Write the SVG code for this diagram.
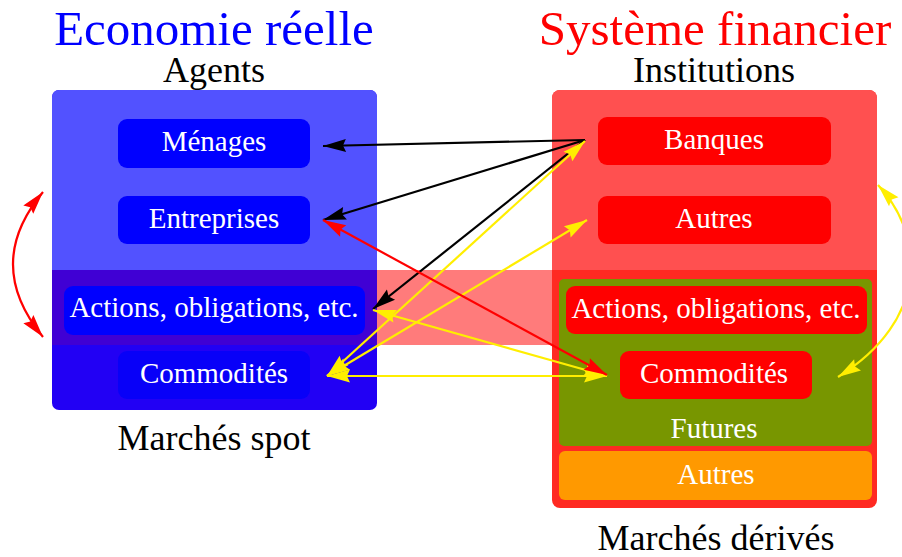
<svg xmlns="http://www.w3.org/2000/svg" width="902" height="557" viewBox="0 0 902 557">
<style>
text{font-family:"Liberation Serif","Times New Roman",serif;text-anchor:middle}
.title{font-size:49px}
.sub{font-size:36px;fill:#000}
.lbl{font-size:29px;fill:#fff}
.bn{fill:#0000ff}
.rn{fill:#ff0000}
.c{fill:none;stroke-width:2.2}
.k{stroke:#000;marker-start:none;marker-end:url(#mk)}
.y{stroke:#ffee00;marker-start:url(#my);marker-end:url(#my)}
.r{stroke:#ff0000;marker-start:url(#mr);marker-end:url(#mr)}
</style>
<defs>
<marker id="mk" viewBox="-25 -8 27 16" refX="0" refY="0" markerWidth="27" markerHeight="16" markerUnits="userSpaceOnUse" orient="auto-start-reverse"><path d="M0,0 L-23,-6.5 L-20,0 L-23,6.5 Z" fill="#000"/></marker>
<marker id="my" viewBox="-25 -8 27 16" refX="0" refY="0" markerWidth="27" markerHeight="16" markerUnits="userSpaceOnUse" orient="auto-start-reverse"><path d="M0,0 L-23,-6.5 L-20,0 L-23,6.5 Z" fill="#ffee00"/></marker>
<marker id="mr" viewBox="-25 -8 27 16" refX="0" refY="0" markerWidth="27" markerHeight="16" markerUnits="userSpaceOnUse" orient="auto-start-reverse"><path d="M0,0 L-23,-6.5 L-20,0 L-23,6.5 Z" fill="#ff0000"/></marker>
</defs>

<g id="titles">
<text class="title" x="214" y="45" fill="#0000ff">Economie réelle</text>
<text class="sub" x="214" y="82">Agents</text>
<text class="title" x="715" y="45" fill="#ff0000">Système financier</text>
<text class="sub" x="714" y="82">Institutions</text>
<text class="sub" x="214" y="450">Marchés spot</text>
<text class="sub" x="716" y="550">Marchés dérivés</text>
</g>

<g id="economie-reelle">
<rect x="52" y="90" width="325" height="320" rx="7" fill="#2200f4"/>
<path d="M52,270 V97 A7,7 0 0 1 59,90 H370 A7,7 0 0 1 377,97 V270 Z" fill="#5252ff"/>
<rect x="52" y="270" width="325" height="75" fill="#4000d4"/>
</g>

<g id="band">
<rect x="377" y="270" width="175" height="75" fill="#ff7b7b"/>
</g>

<g id="systeme-financier">
<rect x="552" y="90" width="325" height="418" rx="8" fill="#ff2a22"/>
<path d="M552,270 V98 A8,8 0 0 1 560,90 H869 A8,8 0 0 1 877,98 V270 Z" fill="#ff5050"/>
</g>

<g id="futures">
<rect x="559" y="279" width="313" height="167" rx="5" fill="#789600"/>
<text class="lbl" x="714" y="438">Futures</text>
</g>
<g id="autres-derives">
<rect x="559" y="451" width="313" height="49" rx="6" fill="#ff9900"/>
<text class="lbl" x="716" y="484">Autres</text>
</g>

<g id="menages"><rect class="bn" x="118" y="119" width="192" height="49" rx="9"/><text class="lbl" x="214" y="151">Ménages</text></g>
<g id="entreprises"><rect class="bn" x="118" y="196" width="192" height="48" rx="9"/><text class="lbl" x="214" y="228">Entreprises</text></g>
<g id="actions-spot"><rect class="bn" x="64" y="286" width="301" height="49" rx="9"/><text class="lbl" x="214" y="317">Actions, obligations, etc.</text></g>
<g id="commodites-spot"><rect x="118" y="351" width="192" height="48" rx="9" fill="#0800f8"/><text class="lbl" x="214" y="383">Commodités</text></g>

<g id="banques"><rect class="rn" x="598" y="117" width="233" height="48" rx="9"/><text class="lbl" x="714" y="149">Banques</text></g>
<g id="autres-institutions"><rect class="rn" x="598" y="196" width="233" height="48" rx="9"/><text class="lbl" x="714" y="228">Autres</text></g>
<g id="actions-derives"><rect class="rn" x="566" y="286" width="301" height="48" rx="9"/><text class="lbl" x="716" y="318">Actions, obligations, etc.</text></g>
<g id="commodites-derives"><rect class="rn" x="620" y="351" width="192" height="48" rx="9"/><text class="lbl" x="714" y="383">Commodités</text></g>

<g id="connectors">
<line class="c k" x1="585" y1="140" x2="323" y2="146"/>
<line class="c k" x1="585" y1="140" x2="323" y2="220"/>
<line class="c k" x1="585" y1="140" x2="373" y2="309"/>
<line class="c y" x1="327" y1="376" x2="585" y2="141"/>
<line class="c y" x1="327" y1="376" x2="587" y2="220"/>
<line class="c y" x1="373" y1="310" x2="607" y2="376"/>
<line class="c y" x1="327" y1="376" x2="607" y2="376"/>
<line class="c r" x1="323" y1="220" x2="607" y2="375"/>
<path class="c r" d="M43,192 Q-17,264 43,337"/>
<path class="c y" d="M878,185 C925,235 930,320 838,377"/>
</g>
</svg>
